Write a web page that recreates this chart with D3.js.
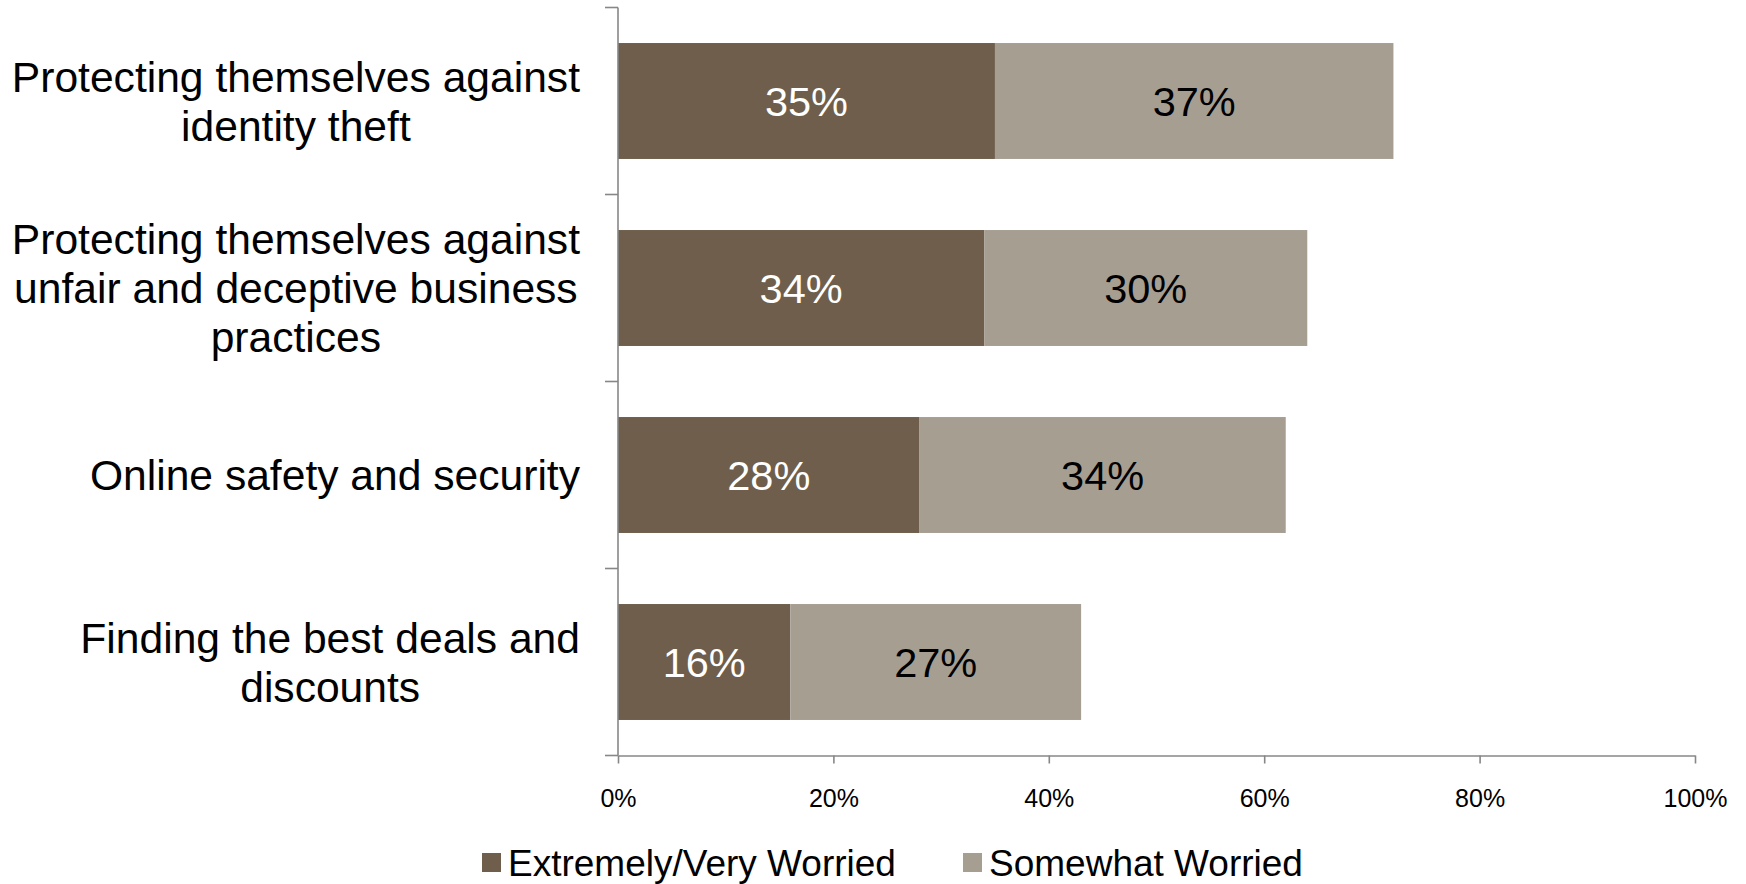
<!DOCTYPE html>
<html>
<head>
<meta charset="utf-8">
<script src="https://cdn.jsdelivr.net/npm/d3@7"></script>
<style>
  html, body { margin: 0; padding: 0; background: #fff; }
  svg { display: block; font-family: "Liberation Sans", Arial, sans-serif; }
</style>
</head>
<body>
<svg id="chart" width="1746" height="884"></svg>
<script>
const categories = [
  ["Protecting themselves against", "identity theft"],
  ["Protecting themselves against", "unfair and deceptive business", "practices"],
  ["Online safety and security"],
  ["Finding the best deals and", "discounts"]
];
const seriesNames = ["Extremely/Very Worried", "Somewhat Worried"];
const extremelyVery = [35, 34, 28, 16];
const somewhat = [37, 30, 34, 27];
const xTicks = [0, 20, 40, 60, 80, 100];
const colors = ["#6e5e4b", "#a79e92"];
const labelColors = ["#ffffff", "#000000"];
const axisColor = "#878787";

(function () {
const svg = d3.select("#chart");
const plotLeft = 618, plotRight = 1695, plotTop = 7.5, plotBottom = 755.5;

const keys = categories.map((c, i) => i);
const x = d3.scaleLinear().domain([0, 100]).range([plotLeft, plotRight]);
const y = d3.scaleBand().domain(keys).range([plotTop, plotBottom]).paddingInner(0.38).paddingOuter(0.19);

const rows = keys.map(i => ({ i, a: extremelyVery[i], b: somewhat[i] }));
const stack = d3.stack().keys(["a", "b"])(rows);

// bars
stack.forEach((layer, li) => {
  const g = svg.append("g");
  g.selectAll("rect").data(layer).join("rect")
    .attr("x", d => x(d[0]))
    .attr("y", d => y(d.data.i))
    .attr("width", d => x(d[1]) - x(d[0]))
    .attr("height", y.bandwidth())
    .attr("fill", colors[li]);
  g.selectAll("text").data(layer).join("text")
    .attr("x", d => (x(d[0]) + x(d[1])) / 2)
    .attr("y", d => y(d.data.i) + y.bandwidth() / 2)
    .attr("dy", "0.355em")
    .attr("text-anchor", "middle")
    .attr("font-size", 41.5)
    .attr("fill", labelColors[li])
    .text(d => (d[1] - d[0]) + "%");
});

// y axis line + ticks at band boundaries
const ax = svg.append("g").attr("stroke", axisColor).attr("stroke-width", 1.6);
ax.append("line").attr("x1", plotLeft).attr("x2", plotLeft).attr("y1", plotTop).attr("y2", plotBottom);
const boundaries = d3.range(keys.length + 1).map(k => plotTop + k * y.step());
ax.selectAll("line.yt").data(boundaries).join("line").attr("class", "yt")
  .attr("x1", plotLeft - 13).attr("x2", plotLeft).attr("y1", d => d).attr("y2", d => d);

// x axis
const xAxis = d3.axisBottom(x).tickValues(xTicks).tickSize(8).tickSizeOuter(0)
  .tickFormat(d => d + "%");
const xg = svg.append("g").attr("transform", `translate(0,${plotBottom})`).call(xAxis);
xg.select(".domain").attr("stroke", axisColor).attr("stroke-width", 1.6);
xg.selectAll(".tick line").attr("stroke", axisColor).attr("stroke-width", 1.6);
xg.selectAll(".tick text")
  .attr("font-size", 25)
  .attr("font-family", "Liberation Sans, Arial, sans-serif")
  .attr("fill", "#000")
  .attr("y", 51)
  .attr("dy", "0");

// category labels
const labelRight = 580;
const lineH = 49;
keys.forEach(i => {
  const lines = categories[i];
  const g = svg.append("g");
  const cy = y(i) + y.bandwidth() / 2;
  const texts = lines.map((t, k) => g.append("text")
    .attr("font-size", 42.6)
    .attr("fill", "#000")
    .attr("text-anchor", "middle")
    .attr("y", cy + (k - (lines.length - 1) / 2) * lineH)
    .attr("dy", "0.355em")
    .text(t));
  const maxW = d3.max(texts, t => t.node().getComputedTextLength());
  texts.forEach(t => t.attr("x", labelRight - maxW / 2));
});

// legend
const legendX = [482, 963];
const legend = svg.append("g");
seriesNames.forEach((name, li) => {
  legend.append("rect").attr("x", legendX[li]).attr("y", 853).attr("width", 19).attr("height", 19)
    .attr("fill", colors[li]);
  legend.append("text").attr("x", legendX[li] + 26).attr("y", 876)
    .attr("font-size", 37).attr("fill", "#000").text(name);
});
})();
</script>
</body>
</html>
